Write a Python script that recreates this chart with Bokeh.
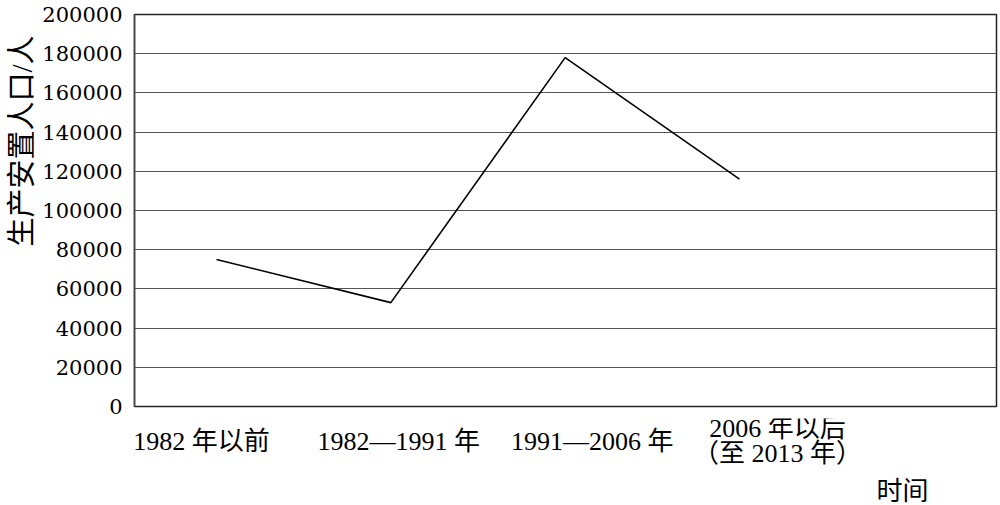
from bokeh.plotting import figure
from bokeh.models import FixedTicker, BasicTickFormatter, Range1d, Title, ColumnDataSource
from bokeh.layouts import column
from bokeh.core.properties import value
from bokeh.embed import file_html
from bokeh.resources import INLINE

# ---- data ----
categories = ["1982 年以前", "1982—1991 年", "1991—2006 年", "2006 年以后\n（至 2013 年）"]
population = [75000, 53000, 178000, 116000]
y_ticks = [0, 20000, 40000, 60000, 80000, 100000, 120000, 140000, 160000, 180000, 200000]
y_title = "生产安置人口/人"
x_title = "时间"

TICK_FONT = "DejaVu Serif, Noto Sans CJK SC"
LABEL_FONT = "Liberation Serif, Noto Sans CJK SC"

# ---- layout constants (pixels) ----
W, H = 1000, 505
FRAME_L, FRAME_R = 134, 996
X0, STEP = 216, 174.33          # pixel position of first category and spacing
TOP_H = 418
BOT_H = H - TOP_H

xs = list(range(len(population)))
x_range = Range1d((FRAME_L - X0) / STEP, (FRAME_R - X0) / STEP)

p = figure(
    frame_width=FRAME_R - FRAME_L, frame_height=392,
    min_border_left=FRAME_L, min_border_right=W - FRAME_R, min_border_top=14,
    min_border_bottom=TOP_H - 14 - 392,
    output_backend="svg", toolbar_location=None,
    x_range=x_range, y_range=Range1d(0, 200000),
)

p.line(xs, population, line_color="black", line_width=1.6)

p.xaxis.visible = False
p.xgrid.visible = False
p.yaxis.ticker = FixedTicker(ticks=y_ticks)
p.yaxis.formatter = BasicTickFormatter(use_scientific=False)
p.yaxis.major_tick_out = 0
p.yaxis.major_tick_in = 0
p.yaxis.minor_tick_out = 0
p.yaxis.minor_tick_in = 0
p.yaxis.major_label_standoff = 12
p.yaxis.major_label_text_font = TICK_FONT
p.yaxis.major_label_text_font_size = "21px"
p.yaxis.major_label_text_color = "black"
p.yaxis.axis_line_color = "#444444"
p.yaxis.axis_line_width = 1.5
p.ygrid.ticker = FixedTicker(ticks=y_ticks)
p.ygrid.grid_line_color = "#555555"
p.ygrid.grid_line_width = 1.2
p.outline_line_color = "#222222"
p.outline_line_width = 1.5

p.add_layout(Title(text=y_title, align="right", offset=21, standoff=3,
                   text_font=LABEL_FONT, text_font_size="29px", text_font_style="normal",
                   text_color="black"), "left")

# ---- bottom strip with category labels (same horizontal geometry) ----
p2 = figure(
    frame_width=FRAME_R - FRAME_L, frame_height=BOT_H,
    min_border_left=FRAME_L, min_border_right=W - FRAME_R, min_border_top=0, min_border_bottom=0,
    output_backend="svg", toolbar_location=None,
    x_axis_location=None, y_axis_location=None,
    x_range=x_range, y_range=Range1d(0, BOT_H),
)
p2.outline_line_color = None
p2.xgrid.visible = False
p2.ygrid.visible = False

src = ColumnDataSource(dict(x=xs, y=[H - 440.5] * len(xs), text=categories,
                            dx=[-15, 8, 27, 38]))
p2.text(x="x", y="y", text="text", x_offset="dx", source=src,
        text_align="center", text_baseline="middle", text_line_height=0.85,
        text_font=value(LABEL_FONT), text_font_size="26px", text_color="black")

p2.text(x=[(902 - X0) / STEP], y=[H - 491], text=[x_title],
        text_align="center", text_baseline="middle",
        text_font=value(LABEL_FONT), text_font_size="26px", text_color="black")

layout = column(p, p2, spacing=0)
open("out.html", "w").write(file_html(layout, INLINE))
